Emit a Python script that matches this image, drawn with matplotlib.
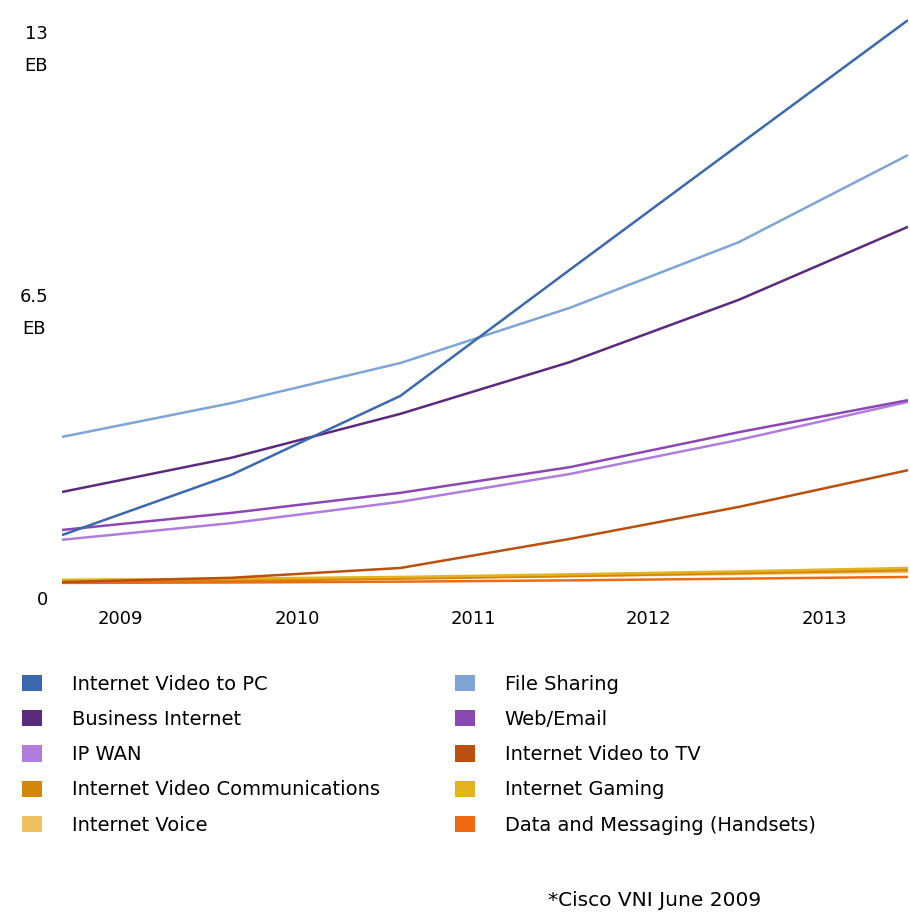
import matplotlib
matplotlib.use("Agg")
from matplotlib import pyplot as plt
from matplotlib.patches import Patch

# eje x: 6 puntos anuales (2008 .. 2013), etiquetas algo desplazadas como en la figura
x = [0, 1, 2, 3, 4, 5]
tick_pos = [0.343, 1.389, 2.429, 3.463, 4.509]
tick_lab = ["2009", "2010", "2011", "2012", "2013"]
y_ticks = [0, 6.5, 13]
y_lab = ["0", "6.5\nEB", "13\nEB"]

# valores (EB por mes)
video_pc = [1.52, 2.93, 4.78, 7.73, 10.66, 13.58]
file_sharing = [3.82, 4.61, 5.55, 6.84, 8.38, 10.42]
business = [2.53, 3.33, 4.36, 5.57, 7.03, 8.74]
web_email = [1.64, 2.04, 2.51, 3.11, 3.93, 4.68]
ip_wan = [1.41, 1.80, 2.30, 2.95, 3.75, 4.64]
video_tv = [0.42, 0.52, 0.75, 1.43, 2.18, 3.04]
video_comm = [0.42, 0.45, 0.50, 0.56, 0.63, 0.70]
gaming = [0.47, 0.50, 0.54, 0.60, 0.67, 0.75]
voice = [0.47, 0.49, 0.52, 0.56, 0.61, 0.66]
data_msg = [0.40, 0.41, 0.43, 0.46, 0.50, 0.54]

series = [
    ("Internet Video to PC", video_pc, "#3b69ad"),
    ("Business Internet", business, "#5b2a7c"),
    ("IP WAN", ip_wan, "#b07ddc"),
    ("Internet Video Communications", video_comm, "#d4850c"),
    ("Internet Voice", voice, "#f0c060"),
    ("File Sharing", file_sharing, "#7ea5d6"),
    ("Web/Email", web_email, "#8c48b2"),
    ("Internet Video to TV", video_tv, "#b9500f"),
    ("Internet Gaming", gaming, "#e3b21e"),
    ("Data and Messaging (Handsets)", data_msg, "#ee6a12"),
]
# orden de dibujo (las de abajo primero)
draw_order = [4, 3, 8, 9, 7, 2, 6, 1, 5, 0]

plt.rcParams['font.family'] = ['DejaVu Sans']
fs = 13

fig = plt.figure(figsize=(9.10, 9.13), dpi=100)
W, H = 910.0, 913.0
ax = fig.add_axes([62 / W, (H - 600) / H, 846 / W, 585 / H])

for i in draw_order:
    name, vals, col = series[i]
    ax.plot(x, vals, color=col, lw=1.8, solid_capstyle='butt')

ax.set_xlim(0, 5)
ax.set_ylim(0, 13.7)
ax.set_xticks(tick_pos, tick_lab, fontsize=fs)
ax.set_yticks([])
ax.tick_params(axis='x', length=0, pad=7)
for s in ax.spines.values():
    s.set_visible(False)

# etiquetas del eje y, a mano para poder desplazarlas un poco
dys = [0, 9, -5]
for v, lab, dy in zip(y_ticks, y_lab, dys):
    ax.annotate(lab, xy=(0, v), xycoords=('axes fraction', 'data'),
                xytext=(-14, dy), textcoords='offset pixels',
                ha='right', va='center', multialignment='center',
                linespacing=2.0, fontsize=fs)

handles = [Patch(facecolor=c, edgecolor='none') for _, _, c in series]
labels = [n for n, _, _ in series]
leg_kw = dict(loc='upper left', frameon=False, fontsize=14, borderpad=0,
              handlelength=1.05, handleheight=0.9, handletextpad=1.5,
              labelspacing=0.83, borderaxespad=0)
leg1 = fig.legend(handles[:5], labels[:5], bbox_to_anchor=(22 / W, 1 - 675 / H), **leg_kw)
leg2 = fig.legend(handles[5:], labels[5:], bbox_to_anchor=(455 / W, 1 - 675 / H), **leg_kw)

fig.text(655 / W, 1 - 900 / H, "*Cisco VNI June 2009", ha='center', va='center', fontsize=14.5)

fig.savefig("out.png", dpi=100)
